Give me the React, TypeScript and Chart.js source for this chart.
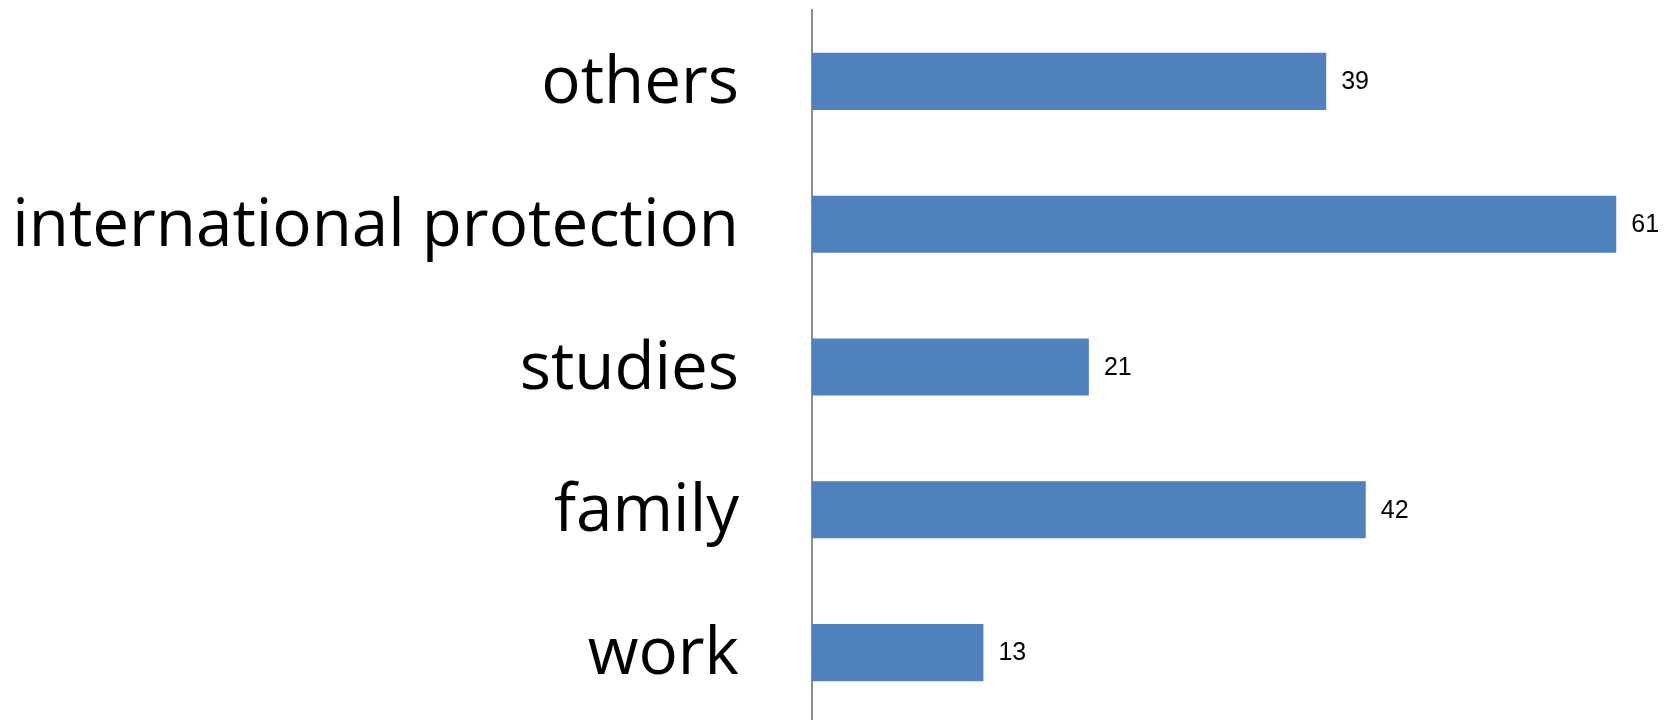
import React, { useEffect, useRef } from "react";
import { Chart, registerables } from "chart.js";

Chart.register(...registerables);

const categories: string[] = ["others", "international protection", "studies", "family", "work"];
const values: number[] = [39, 61, 21, 42, 13];
const xMax = 65;

const valueLabelPlugin = {
  id: "valueLabels",
  afterDatasetsDraw(chart: any) {
    const ctx = chart.ctx;
    const meta = chart.getDatasetMeta(0);
    ctx.save();
    ctx.font = '25px "Liberation Sans", Arial, sans-serif';
    ctx.fillStyle = "#000000";
    ctx.textAlign = "left";
    ctx.textBaseline = "middle";
    meta.data.forEach((bar: any, i: number) => {
      ctx.fillText(String(values[i]), bar.x + 15, bar.y + 1);
    });
    ctx.restore();
  },
};

export default function App() {
  const ref = useRef<HTMLCanvasElement | null>(null);
  useEffect(() => {
    if (!ref.current) return;
    const chart = new Chart(ref.current, {
      type: "bar",
      data: {
        labels: categories,
        datasets: [
          {
            data: values,
            backgroundColor: "#4F81BD",
            borderWidth: 0,
            barPercentage: 0.4,
            categoryPercentage: 1,
          },
        ],
      },
      options: {
        indexAxis: "y",
        animation: false,
        responsive: false,
        maintainAspectRatio: false,
        devicePixelRatio: 1,
        layout: { padding: { left: 0, right: 3, top: 10, bottom: 16 } },
        plugins: {
          legend: { display: false },
          tooltip: { enabled: false },
          title: { display: false },
        },
        scales: {
          x: {
            display: false,
            min: 0,
            max: xMax,
          },
          y: {
            position: "left",
            afterFit: (scale: any) => {
              scale.width = 812;
              scale.paddingTop = 0;
              scale.paddingBottom = 0;
            },
            grid: { display: false, drawTicks: false },
            border: { display: true, color: "#8C8C8C", width: 2 },
            ticks: {
              padding: 73,
              labelOffset: 3,
              color: "#000000",
              font: { family: '"Open Sans", sans-serif', size: 65.5 },
            },
          },
        },
      },
      plugins: [valueLabelPlugin],
    });
    return () => chart.destroy();
  }, []);
  return (
    <div
      style={{
        position: "fixed",
        left: 0,
        top: 0,
        width: 1672,
        height: 720,
        overflow: "hidden",
        background: "#ffffff",
      }}
    >
      <canvas ref={ref} width={1672} height={740} style={{ display: "block" }} />
    </div>
  );
}
